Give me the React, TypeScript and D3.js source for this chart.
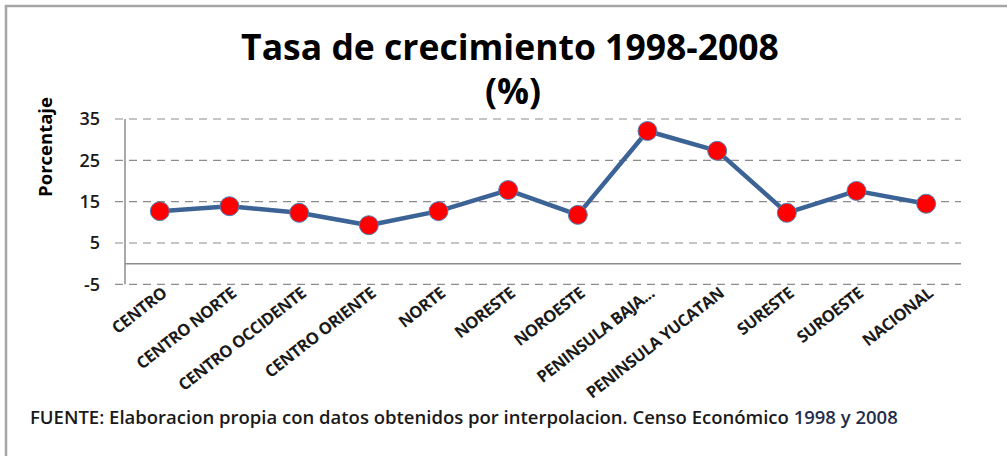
import React, { useEffect, useRef } from "react";
import * as d3 from "d3";

const regiones = [
  "CENTRO",
  "CENTRO NORTE",
  "CENTRO OCCIDENTE",
  "CENTRO ORIENTE",
  "NORTE",
  "NORESTE",
  "NOROESTE",
  "PENINSULA BAJA...",
  "PENINSULA YUCATAN",
  "SURESTE",
  "SUROESTE",
  "NACIONAL",
];
const tasas = [12.7, 13.9, 12.3, 9.3, 12.7, 17.8, 11.8, 32.1, 27.3, 12.3, 17.6, 14.5];
const yTicks = [-5, 5, 15, 25, 35];

const font = "'Open Sans', sans-serif";

function App() {
  const ref = useRef<SVGSVGElement>(null);

  useEffect(() => {
    const width = 1007;
    const height = 456;
    const left = 125;
    const right = 961;

    const svg = d3.select(ref.current);
    svg.selectAll("*").remove();
    svg.attr("width", width).attr("height", height);

    svg.append("rect").attr("width", width).attr("height", height).attr("fill", "#fff");

    // marco
    svg
      .append("path")
      .attr("d", `M6,${height} L6,6 L${width},6`)
      .attr("fill", "none")
      .attr("stroke", "#a6a6a6")
      .attr("stroke-width", 2.5);

    const x = d3.scalePoint<string>().domain(regiones).range([left, right]).padding(0.5);
    const y = d3.scaleLinear().domain([-5, 35]).range([284.3, 119]);

    // lineas de cuadricula
    svg
      .selectAll(".grid")
      .data(yTicks)
      .enter()
      .append("line")
      .attr("x1", left - 10)
      .attr("x2", right)
      .attr("y1", (d) => y(d))
      .attr("y2", (d) => y(d))
      .attr("stroke", "#8c8c8c")
      .attr("stroke-width", 1.2)
      .attr("stroke-dasharray", "8,6");

    // eje cero
    svg
      .append("line")
      .attr("x1", left)
      .attr("x2", right)
      .attr("y1", y(0))
      .attr("y2", y(0))
      .attr("stroke", "#8c8c8c")
      .attr("stroke-width", 1.5);

    // eje y
    svg
      .append("line")
      .attr("x1", left)
      .attr("x2", left)
      .attr("y1", y(35))
      .attr("y2", y(-5))
      .attr("stroke", "#8c8c8c")
      .attr("stroke-width", 1.5);

    svg
      .selectAll(".ytick")
      .data(yTicks)
      .enter()
      .append("text")
      .attr("x", 100)
      .attr("y", (d) => y(d))
      .attr("dy", "0.36em")
      .attr("text-anchor", "end")
      .attr("font-family", font)
      .attr("font-size", 18)
      .attr("font-weight", 600)
      .attr("fill", "#1a1a1a")
      .text((d) => d);

    svg
      .append("text")
      .attr("transform", "translate(52,147) rotate(-90)")
      .attr("text-anchor", "middle")
      .attr("font-family", font)
      .attr("font-size", 18.5)
      .attr("font-weight", 700)
      .attr("fill", "#000")
      .text("Porcentaje");

    // etiquetas de categoria
    svg
      .selectAll(".xlab")
      .data(regiones)
      .enter()
      .append("text")
      .attr("transform", (d) => `translate(${(x(d) as number) + 8},${y(-5) + 11}) rotate(-38)`)
      .attr("text-anchor", "end")
      .attr("font-family", font)
      .attr("font-size", 16.5)
      .attr("font-weight", 700)
      .attr("letter-spacing", -0.5)
      .attr("fill", "#1a1a1a")
      .text((d) => d);

    // serie
    const line = d3
      .line<number>()
      .x((_, i) => x(regiones[i]) as number)
      .y((d) => y(d));

    svg
      .append("path")
      .datum(tasas)
      .attr("d", line)
      .attr("fill", "none")
      .attr("stroke", "#3c6396")
      .attr("stroke-width", 4.5)
      .attr("stroke-linejoin", "round");

    svg
      .selectAll(".pt")
      .data(tasas)
      .enter()
      .append("circle")
      .attr("cx", (_, i) => x(regiones[i]) as number)
      .attr("cy", (d) => y(d))
      .attr("r", 9.5)
      .attr("fill", "#ff0000")
      .attr("stroke", "#4f81bd")
      .attr("stroke-width", 1);

    // titulo
    svg
      .append("text")
      .attr("x", 510)
      .attr("y", 60)
      .attr("text-anchor", "middle")
      .attr("font-family", font)
      .attr("font-size", 35.5)
      .attr("font-weight", 700)
      .attr("fill", "#000")
      .text("Tasa de crecimiento 1998-2008");

    svg
      .append("text")
      .attr("x", 513)
      .attr("y", 104)
      .attr("text-anchor", "middle")
      .attr("font-family", font)
      .attr("font-size", 35.5)
      .attr("font-weight", 700)
      .attr("fill", "#000")
      .text("(%)");

    // fuente
    const fuente = svg
      .append("text")
      .attr("x", 30)
      .attr("y", 424)
      .attr("font-family", font)
      .attr("font-size", 18.5)
      .attr("font-weight", 600)
      .attr("fill", "#1a1a1a");
    fuente
      .append("tspan")
      .text("FUENTE: Elaboracion propia con datos obtenidos por interpolacion. Censo Económico ");
    fuente.append("tspan").attr("fill", "#1f2d4d").text("1998 y 2008");
  }, []);

  return <svg ref={ref} style={{ position: "absolute", left: 0, top: 0, display: "block" }} />;
}

export default App;
